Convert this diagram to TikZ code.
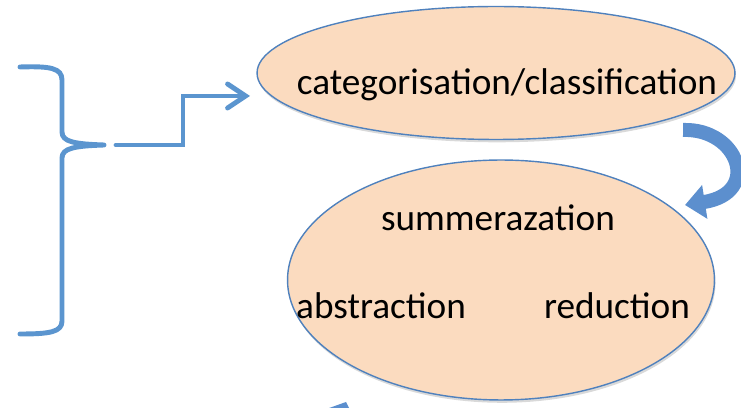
\documentclass[tikz,border=0pt]{standalone}
\usepackage{fontspec}
\setmainfont{Carlito}
\usetikzlibrary{shapes.geometric,arrows.meta,shadows}

\definecolor{peach}{RGB}{251,219,191}
\definecolor{rim}{RGB}{79,129,189}
\definecolor{bracecol}{RGB}{91,149,207}
\definecolor{bendcol}{RGB}{92,143,206}

\tikzset{
  blob/.style={ellipse, draw=rim, line width=0.8pt, fill=peach, inner sep=0pt,
    drop shadow={shadow xshift=0.6pt, shadow yshift=-1.6pt, opacity=0.3}},
  word/.style={font=\fontsize{21.2}{25}\selectfont, inner sep=0pt},
  bluestroke/.style={draw=bracecol, line width=2.8pt, line cap=round},
}

\begin{document}
\begin{tikzpicture}[x=0.02cm, y=-0.02cm]
  \useasboundingbox (0,0) rectangle (741,408);

  % Ellipses
  \node[blob, minimum width=9.56cm, minimum height=2.66cm] (cat) at (496,73) {};
  \node[word] (catlabel) at (507,85) {categorisation/classification};

  \node[blob, minimum width=8.54cm, minimum height=4.8cm] (summ) at (501,280) {};
  \node[word] (summlabel) at (498,218) {summerazation};
  \node[word] (abstr) at (381,306) {abstraction};
  \node[word] (reduc) at (617,306) {reduction};

  % Brace on the left
  \coordinate (bracetip) at (104,145);
  \draw[bluestroke, line join=round]
    (20,67) .. controls (50,66) and (62,68) .. (62,80) -- (62,132)
    .. controls (62,142) and (75,144) .. (bracetip)
    .. controls (75,146) and (62,148) .. (62,158) -- (62,321)
    .. controls (62,332) and (50,334) .. (20,334);

  % Connector from brace to top ellipse
  \coordinate (linestart) at (116,145);
  \coordinate (lineend) at (250,96);
  \draw[bluestroke, line join=miter, -{Straight Barb[length=3.6mm, width=4.8mm, line cap=round]}]
    (linestart) -- (183,145) |- (lineend);

  % Curved block arrow between the ellipses
  \coordinate (curvestart) at (683,130);
  \coordinate (curveend) at (685,205);
  \draw[bendcol, line width=0.28cm, -{Triangle[length=4mm, width=6.6mm]}]
    (curvestart) .. controls (738,128) and (762,193) .. (curveend);

  % Tip of a further arrow at the lower edge
  \begin{scope}
    \clip (0,0) rectangle (741,408);
    \fill[bendcol] (318,412) -- (346,402) -- (352,414) -- cycle;
  \end{scope}

\end{tikzpicture}
\end{document}
